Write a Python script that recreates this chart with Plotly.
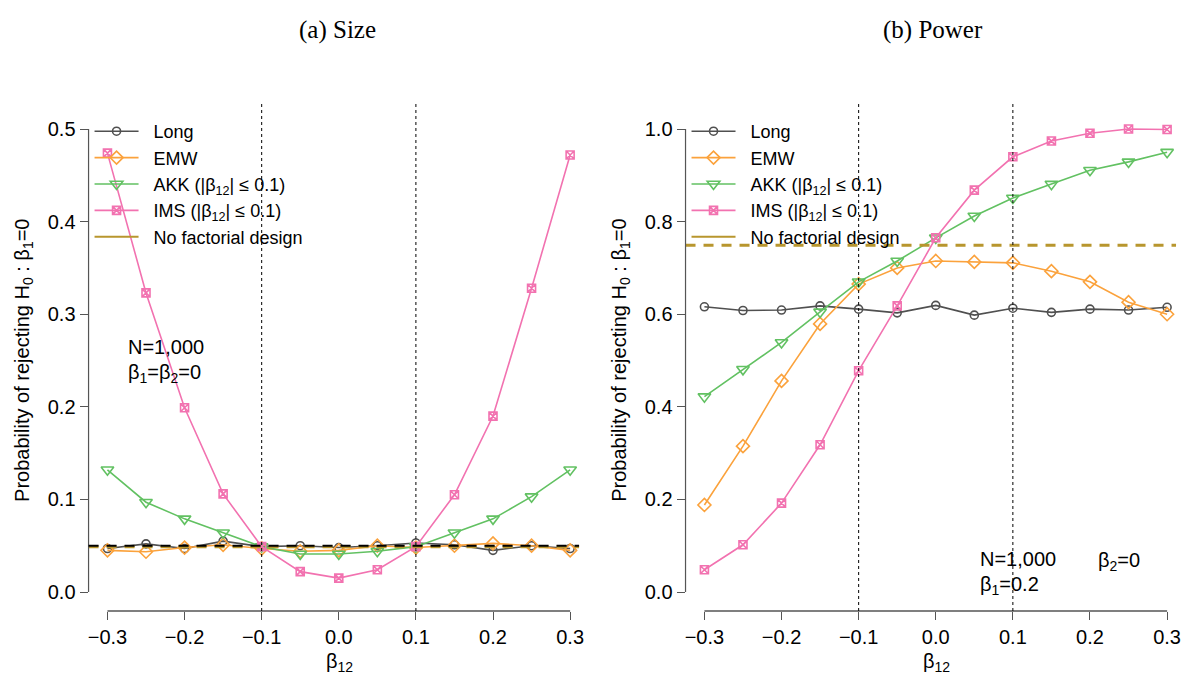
import plotly.graph_objects as go

# ---------------- data ----------------
beta12 = [-0.3, -0.25, -0.2, -0.15, -0.1, -0.05, 0.0, 0.05, 0.1, 0.15, 0.2, 0.25, 0.3]

size_long = [0.047, 0.052, 0.047, 0.055, 0.049, 0.050, 0.048, 0.050, 0.053, 0.051, 0.045, 0.050, 0.047]
size_emw = [0.045, 0.0435, 0.048, 0.051, 0.047, 0.044, 0.045, 0.050, 0.048, 0.050, 0.0525, 0.050, 0.045]
size_akk = [0.132, 0.097, 0.079, 0.064, 0.049, 0.041, 0.041, 0.044, 0.049, 0.064, 0.079, 0.103, 0.132]
size_ims = [0.474, 0.323, 0.199, 0.106, 0.049, 0.022, 0.015, 0.024, 0.049, 0.105, 0.190, 0.328, 0.472]
size_nofact = 0.049
size_nominal = 0.05

power_long = [0.616, 0.608, 0.609, 0.618, 0.611, 0.603, 0.619, 0.598, 0.613, 0.604, 0.611, 0.609, 0.615]
power_emw = [0.188, 0.315, 0.456, 0.579, 0.665, 0.700, 0.715, 0.713, 0.711, 0.693, 0.670, 0.626, 0.600]
power_akk = [0.422, 0.481, 0.539, 0.605, 0.670, 0.715, 0.765, 0.812, 0.851, 0.881, 0.911, 0.929, 0.950]
power_ims = [0.048, 0.102, 0.192, 0.318, 0.478, 0.618, 0.765, 0.868, 0.940, 0.974, 0.991, 1.000, 0.999]
power_nofact = 0.749

x_ticks = [-0.3, -0.2, -0.1, 0.0, 0.1, 0.2, 0.3]
x_ticklabels = ["\u22120.3", "\u22120.2", "\u22120.1", "0.0", "0.1", "0.2", "0.3"]
size_yticks = [0.0, 0.1, 0.2, 0.3, 0.4, 0.5]
power_yticks = [0.0, 0.2, 0.4, 0.6, 0.8, 1.0]
threshold_lines = [-0.1, 0.1]

PAD = "\u00a0\u00a0"
names = [PAD + "Long", PAD + "EMW",
         PAD + "AKK (|\u03b2<sub>12</sub>| \u2264 0.1)",
         PAD + "IMS (|\u03b2<sub>12</sub>| \u2264 0.1)",
         PAD + "No factorial design"]

# ---------------- style ----------------
C_LONG = "#505050"
C_EMW = "#FBA23C"
C_AKK = "#62C162"
C_IMS = "#F272B0"
C_NOF = "#B8962E"
FONT = "Liberation Sans"
FS = 20
W, H = 1188, 675

styles = [
    dict(color=C_LONG, symbol="circle-open", size=8),
    dict(color=C_EMW, symbol="diamond-open", size=10),
    dict(color=C_AKK, symbol="triangle-down-open", size=11),
    dict(color=C_IMS, symbol="square-x-open", size=8),
]

fig = go.Figure()

panels = [
    dict(xa="x", ya="y", legend="legend",
         series=[size_long, size_emw, size_akk, size_ims], nofact=size_nofact),
    dict(xa="x2", ya="y2", legend="legend2",
         series=[power_long, power_emw, power_akk, power_ims], nofact=power_nofact),
]

for p in panels:
    for nm, st, ys in zip(names[:4], styles, p["series"]):
        fig.add_trace(go.Scatter(
            x=beta12, y=ys, mode="lines+markers", name=nm,
            xaxis=p["xa"], yaxis=p["ya"], legend=p["legend"],
            line=dict(color=st["color"], width=1.6),
            marker=dict(symbol=st["symbol"], size=st["size"], color=st["color"],
                        line=dict(color=st["color"], width=1.6)),
            cliponaxis=False,
        ))
    # legend-only entry for the "No factorial design" line (solid in legend)
    fig.add_trace(go.Scatter(
        x=[None], y=[None], mode="lines", name=names[4],
        xaxis=p["xa"], yaxis=p["ya"], legend=p["legend"],
        line=dict(color=C_NOF, width=2),
    ))

shapes = []
for p in panels:
    xr, yr = p["xa"], p["ya"]
    shapes.append(dict(type="line", xref=f"{xr} domain", yref=yr, x0=0, x1=1,
                       y0=p["nofact"], y1=p["nofact"],
                       line=dict(color=C_NOF, width=3, dash="10px,8px")))
    for v in threshold_lines:
        shapes.append(dict(type="line", xref=xr, yref=f"{yr} domain", x0=v, x1=v,
                           y0=0, y1=1.015, line=dict(color="black", width=1, dash="3px,3px")))
    shapes.append(dict(type="line", xref=xr, yref=f"{yr} domain",
                       x0=x_ticks[0], x1=x_ticks[-1], y0=0, y1=0,
                       line=dict(color="black", width=1.2)))
yt_sets = [size_yticks, power_yticks]
for p, yt in zip(panels, yt_sets):
    shapes.append(dict(type="line", xref=f"{p['xa']} domain", yref=p["ya"],
                       x0=0, x1=0, y0=yt[0], y1=yt[-1],
                       line=dict(color="#555555", width=1.2)))
shapes.append(dict(type="line", xref="x domain", yref="y", x0=0, x1=1,
                   y0=size_nominal, y1=size_nominal,
                   line=dict(color="black", width=2, dash="10px,8px")))

# ---------------- layout geometry ----------------
def px_x(v):
    return v / W

def px_y(v):
    return 1 - v / H

ydom = [px_y(611), px_y(110.5)]
xrange = [-0.3245, 0.3116]

axis_common = dict(
    ticks="outside", ticklen=8, tickwidth=1.2, tickcolor="#555555",
    showline=False, showgrid=False, zeroline=False,
    tickfont=dict(family=FONT, size=FS, color="black"),
)

legend_common = dict(xanchor="left", yanchor="top", bgcolor="rgba(0,0,0,0)",
                     font=dict(family=FONT, size=18, color="black"),
                     itemwidth=44, tracegroupgap=0, traceorder="normal")

fig.update_layout(
    width=W, height=H, margin=dict(l=0, r=0, t=0, b=0),
    plot_bgcolor="white", paper_bgcolor="white",
    showlegend=True,
    xaxis=dict(domain=[px_x(88), px_x(581)], range=xrange, anchor="y",
               tickvals=x_ticks, ticktext=x_ticklabels, **axis_common),
    yaxis=dict(domain=ydom, range=[-0.0205, 0.52], anchor="x",
               tickvals=size_yticks, tickformat=".1f", **axis_common),
    xaxis2=dict(domain=[px_x(688), px_x(1181)], range=xrange, anchor="y2",
                tickvals=x_ticks, ticktext=x_ticklabels, **axis_common),
    yaxis2=dict(domain=ydom, range=[-0.041, 1.04], anchor="x2",
                tickvals=power_yticks, tickformat=".1f", **axis_common),
    legend=dict(x=px_x(89), y=px_y(113), **legend_common),
    legend2=dict(x=px_x(689), y=px_y(113), **legend_common),
    shapes=shapes,
)

ann_font = dict(family=FONT, size=FS, color="black")
ylab = "Probability of rejecting H<sub>0</sub> : \u03b2<sub>1</sub>=0"


def ann(text, x, y, xanchor="center", font=ann_font, **kw):
    return dict(text=text, x=px_x(x), y=px_y(y), xref="paper", yref="paper",
                xanchor=xanchor, yanchor="middle", showarrow=False, font=font, **kw)


title_font = dict(family="Liberation Serif", size=25, color="black")
annotations = [
    ann("(a) Size", 338, 30, font=title_font),
    ann("(b) Power", 937, 30, font=title_font),
    ann(ylab, 22, 360, textangle=-90),
    ann(ylab, 622, 360, textangle=-90),
    ann("\u03b2<sub>12</sub>", 340, 662),
    ann("\u03b2<sub>12</sub>", 940, 662),
    ann("N=1,000", 126, 347, xanchor="left"),
    ann("\u03b2<sub>1</sub>=\u03b2<sub>2</sub>=0", 126, 373, xanchor="left"),
    ann("N=1,000", 982, 559, xanchor="left"),
    ann("\u03b2<sub>2</sub>=0", 1101, 561, xanchor="left"),
    ann("\u03b2<sub>1</sub>=0.2", 982, 585, xanchor="left"),
]
fig.update_layout(annotations=annotations)

fig.write_html("out.html")
